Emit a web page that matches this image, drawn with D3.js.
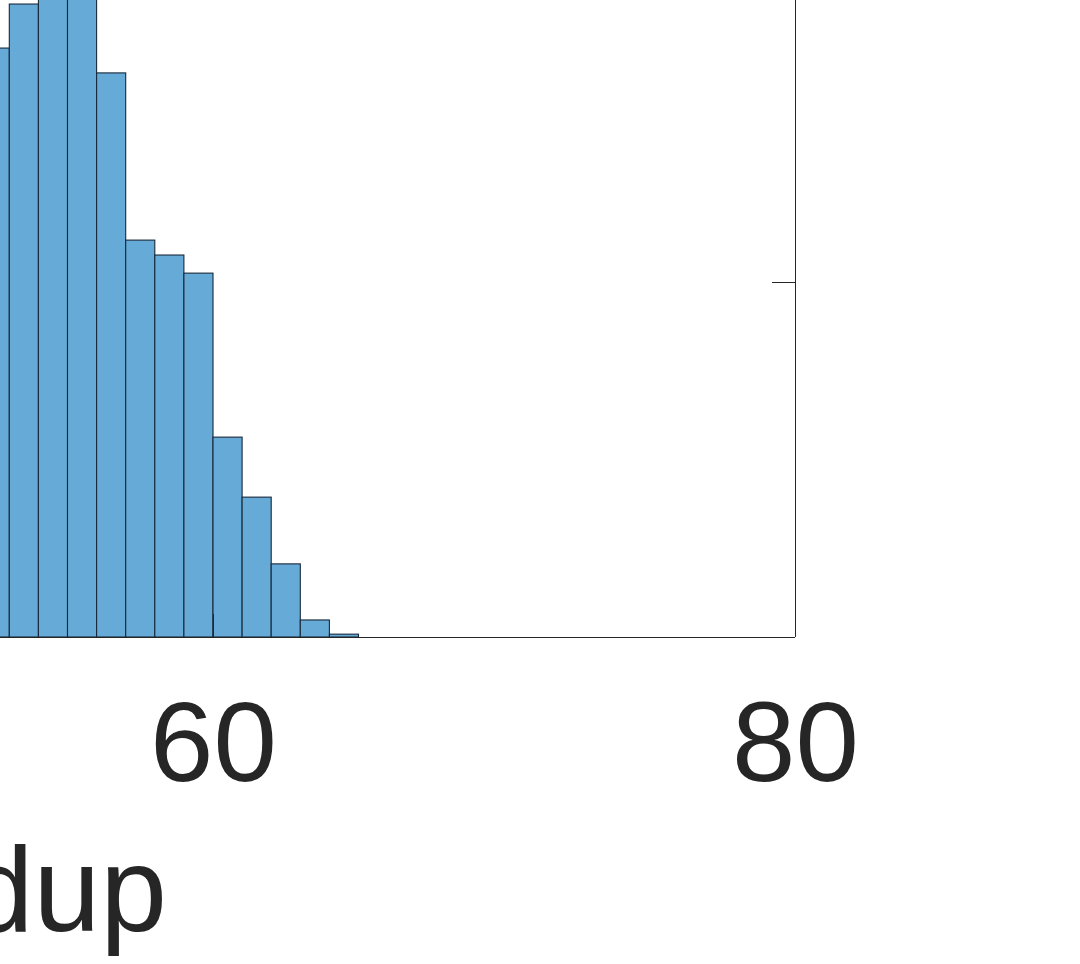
<!DOCTYPE html>
<html>
<head>
<meta charset="utf-8">
<script src="https://cdn.jsdelivr.net/npm/d3@7"></script>
<style>
  body { margin: 0; background: #fff; }
  svg { display: block; }
</style>
</head>
<body>
<svg id="vis" width="1080" height="964"></svg>
<script>
// histogram bins (left edge) and counts, only the part that shows in the crop
var binEdges = [52, 53, 54, 55, 56, 57, 58, 59, 60, 61, 62, 63, 64];
var binCounts = [1659, 1783, 1870, 1830, 1589, 1118, 1076, 1025, 563, 394, 206, 48, 8];
var binWidth = 1;

var xTicks = [60, 80];
var yTicks = [0, 1000, 2000];
var xLabel = "Speedup";

var _vis = d3.select("#vis");

// scales, the axes box runs off the top and left of the picture
var xScale = d3.scaleLinear()
    .domain([60, 80])
    .range([213, 795]);

var yScale = d3.scaleLinear()
    .domain([0, 1000])
    .range([637, 282]);

var axisColor = "#262626";

// bars
_vis.append("g")
    .selectAll("rect")
    .data(binEdges)
    .enter()
    .append("rect")
    .attr("x", d => xScale(d))
    .attr("width", d => xScale(d + binWidth) - xScale(d))
    .attr("y", (d, i) => yScale(binCounts[i]))
    .attr("height", (d, i) => yScale(0) - yScale(binCounts[i]))
    .attr("fill", "#66aad7")
    .attr("stroke", "#18283a")
    .attr("stroke-width", 1.1);

// bottom axis, ticks pointing inward like matlab
var xAxis = d3.axisBottom(xScale)
    .tickValues(xTicks)
    .tickSizeInner(-23)
    .tickSizeOuter(0)
    .tickPadding(63)
    .tickFormat(d3.format("d"));

var gx = _vis.append("g")
    .attr("transform", "translate(0," + yScale(0) + ")")
    .call(xAxis);
gx.select(".domain").attr("stroke", axisColor).attr("d", "M-400,0.5H795");
gx.selectAll(".tick line").attr("stroke", axisColor);
gx.selectAll(".tick text")
    .attr("fill", axisColor)
    .style("font-family", "'Liberation Sans', Arial, sans-serif")
    .style("font-size", "114px");

// right side of the box with its inward ticks
var yAxisR = d3.axisLeft(yScale)
    .tickValues(yTicks)
    .tickSizeInner(23)
    .tickSizeOuter(0)
    .tickFormat("");

var gy = _vis.append("g")
    .attr("transform", "translate(795,0)")
    .call(yAxisR);
gy.select(".domain").attr("stroke", axisColor).attr("d", "M0.5,-400V" + yScale(0));
gy.selectAll(".tick line").attr("stroke", axisColor);

// x label, cut off on the left as in the picture
_vis.append("text")
    .attr("x", 167)
    .attr("y", 931)
    .attr("text-anchor", "end")
    .attr("fill", axisColor)
    .style("font-family", "'Liberation Sans', Arial, sans-serif")
    .style("font-size", "120px")
    .text(xLabel);
</script>
</body>
</html>
